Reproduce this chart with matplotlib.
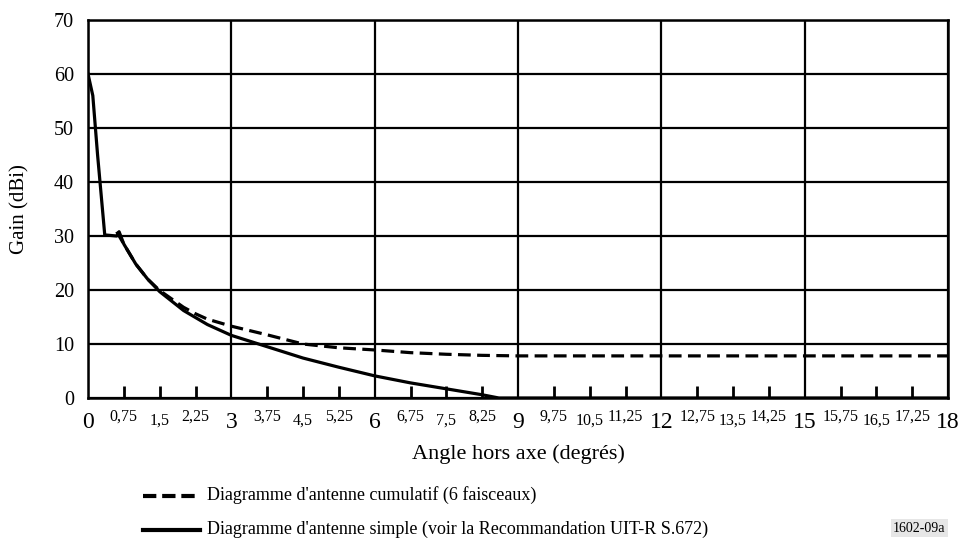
import matplotlib
matplotlib.use("Agg")
import matplotlib.pyplot as plt
import matplotlib.transforms as mtransforms

plt.rcParams['font.family'] = ['Liberation Serif', 'DejaVu Serif']

# Diagramme simple (UIT-R S.672)
angle_simple = [0, 0.1, 0.2, 0.35, 0.6, 0.65, 0.75, 1.0, 1.25, 1.5, 2.0, 2.5, 3.0,
                3.75, 4.5, 5.25, 6.0, 6.75, 7.5, 8.25, 8.6, 18]
gain_simple = [60, 56, 45, 30.2, 30, 30.8, 28.5, 24.8, 22, 19.7, 16.2, 13.6, 11.6,
               9.5, 7.4, 5.7, 4.1, 2.8, 1.7, 0.6, 0, 0]

# Diagramme cumulatif (6 faisceaux)
angle_cumul = [0.6, 0.75, 1.0, 1.25, 1.5, 2.0, 2.25, 2.5, 3.0, 3.75, 4.5, 5.25, 6.0,
               6.75, 7.5, 8.25, 9.0, 12, 15, 18]
gain_cumul = [30.8, 28.5, 24.8, 22, 19.9, 16.8, 15.6, 14.6, 13.3, 11.7, 10.0, 9.3, 8.9,
              8.4, 8.1, 7.9, 7.8, 7.8, 7.8, 7.8]

major_x = [0, 3, 6, 9, 12, 15, 18]
minor_x = [0.75, 1.5, 2.25, 3.75, 4.5, 5.25, 6.75, 7.5, 8.25,
           9.75, 10.5, 11.25, 12.75, 13.5, 14.25, 15.75, 16.5, 17.25]
minor_labels = ["0,75", "1,5", "2,25", "3,75", "4,5", "5,25", "6,75", "7,5", "8,25",
                "9,75", "10,5", "11,25", "12,75", "13,5", "14,25", "15,75", "16,5", "17,25"]
y_ticks = [0, 10, 20, 30, 40, 50, 60, 70]

fig = plt.figure(figsize=(9.61, 5.48), dpi=100)
ax = fig.add_axes([0.0916, 0.2737, 0.8949, 0.6898])

ax.plot(angle_cumul, gain_cumul, color="black", lw=2.3, ls=(0, (4, 2)), zorder=3)
ax.plot(angle_simple, gain_simple, color="black", lw=2.3, zorder=4)

ax.set_xlim(0, 18)
ax.set_ylim(0, 70)
ax.set_xticks(major_x)
ax.set_xticklabels([str(v) for v in major_x], fontsize=17)
ax.set_yticks(y_ticks)
ax.set_yticklabels([str(v) for v in y_ticks], fontsize=14.5)
ax.tick_params(axis="x", which="major", length=0, pad=10)
ax.tick_params(axis="y", which="major", length=0, pad=10)
ax.set_xticks(minor_x, minor=True)
ax.tick_params(axis="x", which="minor", direction="in", length=9, width=2)

# petites étiquettes décalées alternativement
trans = mtransforms.blended_transform_factory(ax.transData, ax.transAxes)
for i, (xv, lab) in enumerate(zip(minor_x, minor_labels)):
    yoff = -0.027 if i % 3 != 1 else -0.040
    ax.text(xv, yoff, lab, transform=trans, ha="center", va="top", fontsize=11.5)

ax.grid(True, which="major", color="black", lw=1.6)
for s in ax.spines.values():
    s.set_linewidth(1.8)

ax.set_xlabel("Angle hors axe (degrés)", fontsize=16, labelpad=8)
ax.set_ylabel("Gain (dBi)", fontsize=15, labelpad=18)

# légende
fig.lines.append(plt.Line2D([143 / 961, 200 / 961], [1 - 496 / 548] * 2, color="black",
                            lw=3, ls=(0, (3.2, 1.4)), transform=fig.transFigure))
fig.lines.append(plt.Line2D([143 / 961, 200 / 961], [1 - 530 / 548] * 2, color="black",
                            lw=3, transform=fig.transFigure))
fig.text(207 / 961, 1 - 495 / 548, "Diagramme d'antenne cumulatif (6 faisceaux)",
         fontsize=13, va="center", ha="left")
fig.text(207 / 961, 1 - 529 / 548,
         "Diagramme d'antenne simple (voir la Recommandation UIT-R S.672)",
         fontsize=13, va="center", ha="left")
fig.text(893 / 961, 1 - 528 / 548, "1602-09a", fontsize=10, va="center", ha="left",
         bbox=dict(facecolor="#e6e6e6", edgecolor="none", pad=1.5))

fig.savefig("out.png", dpi=100)
